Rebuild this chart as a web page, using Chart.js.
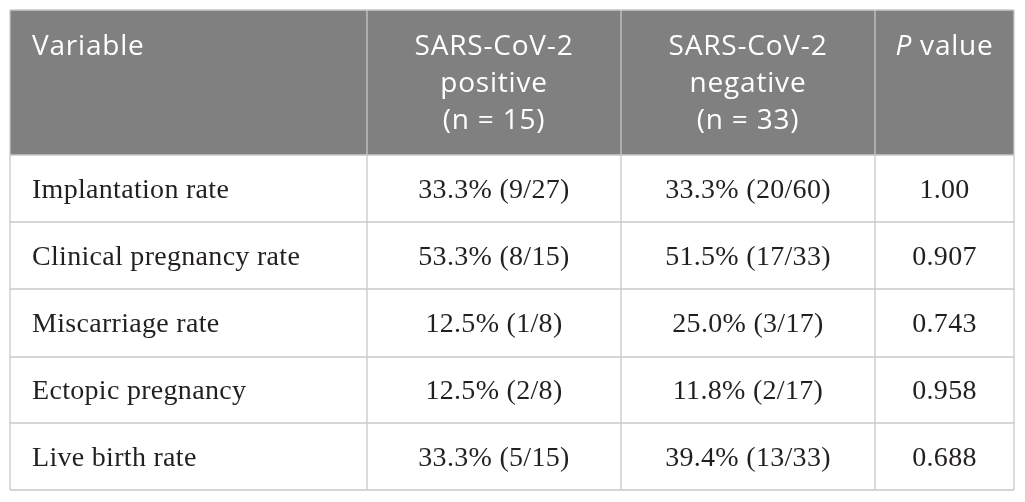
<!DOCTYPE html>
<html>
<head>
<meta charset="utf-8">
<script src="https://cdn.jsdelivr.net/npm/chart.js@4"></script>
<style>
  html, body { margin: 0; padding: 0; background: #fff; }
  #wrap { width: 1025px; height: 502px; }
</style>
</head>
<body>
<div id="wrap"><canvas id="tbl"></canvas></div>
<script>
// table content
const variables = ['Implantation rate', 'Clinical pregnancy rate', 'Miscarriage rate', 'Ectopic pregnancy', 'Live birth rate'];
const posRate = [33.3, 53.3, 12.5, 12.5, 33.3];
const posN = [9, 8, 1, 2, 5];
const posTotal = [27, 15, 8, 8, 15];
const negRate = [33.3, 51.5, 25.0, 11.8, 39.4];
const negN = [20, 17, 3, 2, 13];
const negTotal = [60, 33, 17, 17, 33];
const pValues = ['1.00', '0.907', '0.743', '0.958', '0.688'];
const headers = [['Variable'], ['SARS-CoV-2', 'positive', '(n = 15)'], ['SARS-CoV-2', 'negative', '(n = 33)'], ['P value']];

// layout (page pixels)
const colEdges = [10, 367, 621, 875, 1014];
const rowEdges = [10, 155, 222, 289, 357, 423, 490];

const fmt = (r, n, t) => r.toFixed(1) + '% (' + n + '/' + t + ')';
const cells = variables.map((v, i) => [v, fmt(posRate[i], posN[i], posTotal[i]), fmt(negRate[i], negN[i], negTotal[i]), pValues[i]]);

const HEAD_FONT = '28px "Open Sans"';
const HEAD_ITALIC = 'italic 28px "Open Sans"';
const BODY_FONT = '28px "Liberation Serif"';

const tablePlugin = {
    id: 'tablePlugin',
    afterDraw(chart) {
        const c = chart.ctx;
        const xs = chart.scales.x, ys = chart.scales.y;
        const X = v => xs.getPixelForValue(v);
        const Y = v => ys.getPixelForValue(v);
        const left = X(colEdges[0]), right = X(colEdges[colEdges.length - 1]);
        const top = Y(rowEdges[0]), bottom = Y(rowEdges[rowEdges.length - 1]);
        const mid = j => (X(colEdges[j]) + X(colEdges[j + 1])) / 2;
        c.save();

        // header background
        c.fillStyle = '#808080';
        c.fillRect(left, top, right - left, Y(rowEdges[1]) - top);

        // grid lines
        c.strokeStyle = '#c8c8c8';
        c.lineWidth = 1.3;
        rowEdges.forEach(r => {
            c.beginPath(); c.moveTo(left, Y(r)); c.lineTo(right, Y(r)); c.stroke();
        });
        colEdges.forEach(e => {
            c.beginPath(); c.moveTo(X(e), top); c.lineTo(X(e), bottom); c.stroke();
        });

        // header text
        c.fillStyle = '#ffffff';
        c.textBaseline = 'middle';
        c.letterSpacing = '0.8px';
        headers.forEach((lines, j) => {
            lines.forEach((t, k) => {
                const y = top + 37 + k * 37;
                c.font = HEAD_FONT;
                if (j === 0) {
                    c.textAlign = 'left';
                    c.fillText(t, X(colEdges[0]) + 22, y);
                } else if (t === 'P value') {
                    c.font = HEAD_ITALIC;
                    const wP = c.measureText('P').width;
                    c.font = HEAD_FONT;
                    const wr = c.measureText(' value').width;
                    const x0 = mid(j) - (wP + wr) / 2;
                    c.textAlign = 'left';
                    c.font = HEAD_ITALIC;
                    c.fillText('P', x0, y);
                    c.font = HEAD_FONT;
                    c.fillText(' value', x0 + wP, y);
                } else {
                    c.textAlign = 'center';
                    c.fillText(t, mid(j), y);
                }
            });
        });

        // body text
        c.fillStyle = '#231f20';
        c.font = BODY_FONT;
        c.letterSpacing = '0.3px';
        cells.forEach((row, i) => {
            const y = (Y(rowEdges[i + 1]) + Y(rowEdges[i + 2])) / 2 + 2;
            row.forEach((t, j) => {
                if (j === 0) {
                    c.textAlign = 'left';
                    c.fillText(t, X(colEdges[0]) + 22, y);
                } else {
                    c.textAlign = 'center';
                    c.fillText(t, mid(j), y);
                }
            });
        });
        c.restore();
    }
};

new Chart(document.getElementById('tbl').getContext('2d'), {
    type: 'scatter',
    data: { datasets: [{ data: [] }] },
    options: {
        responsive: true,
        maintainAspectRatio: false,
        animation: false,
        layout: { padding: 0 },
        plugins: { legend: { display: false }, tooltip: { enabled: false } },
        scales: {
            x: { type: 'linear', min: 0, max: 1025, display: false },
            y: { type: 'linear', min: 0, max: 502, reverse: true, display: false }
        }
    },
    plugins: [tablePlugin]
});
</script>
</body>
</html>
